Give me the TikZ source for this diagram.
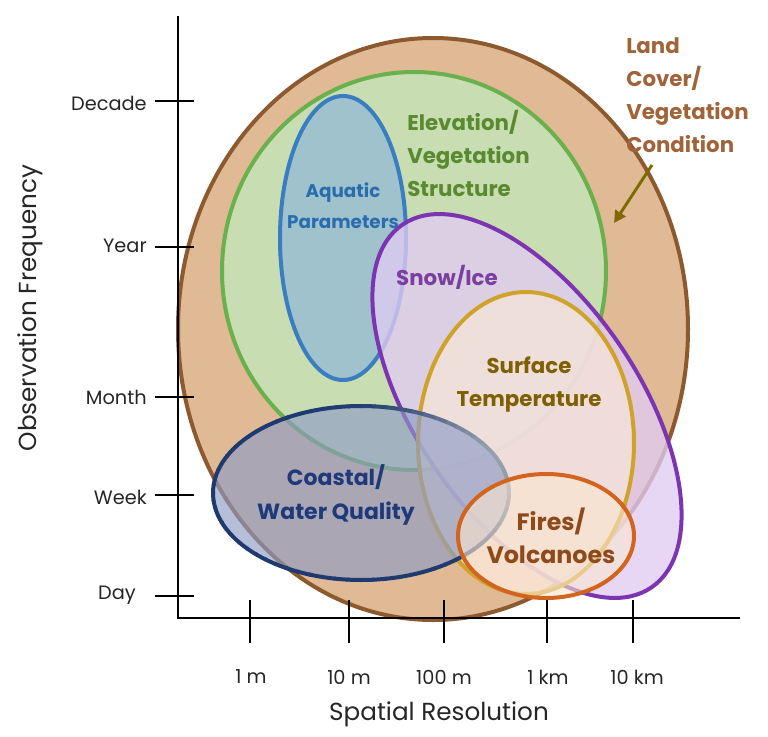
\documentclass[tikz,border=0pt]{standalone}
\usepackage{fontspec}
\setmainfont{Poppins}
\usetikzlibrary{arrows.meta}
\definecolor{tanfill}{HTML}{E0B995}
\definecolor{tanline}{HTML}{8C5A2E}
\definecolor{landtxt}{HTML}{A0643A}
\definecolor{greenfill}{HTML}{C8DDB2}
\definecolor{greenline}{HTML}{6AB04C}
\definecolor{greentxt}{HTML}{5A8A30}
\definecolor{aquafill}{HTML}{A0C2CC}
\definecolor{aqualine}{HTML}{3A7DC0}
\definecolor{aquatxt}{HTML}{2A6DAF}
\definecolor{snowfill}{HTML}{E0CCF2}
\definecolor{snowline}{HTML}{7B35B0}
\definecolor{snowtxt}{HTML}{7B3FA0}
\definecolor{surffill}{HTML}{F8E6D8}
\definecolor{surfline}{HTML}{CFA32A}
\definecolor{surftxt}{HTML}{7F6000}
\definecolor{firefill}{HTML}{FBE6D0}
\definecolor{fireline}{HTML}{D3641E}
\definecolor{firetxt}{HTML}{8E4A1A}
\definecolor{coastfill}{HTML}{8E9CC6}
\definecolor{coastline}{HTML}{1F3A6E}
\definecolor{coastgray}{HTML}{94A2AE}
\definecolor{coasttxt}{HTML}{1F3A7A}
\definecolor{arrowc}{HTML}{7F6A00}
\tikzset{
  region/.style={line width=3pt},
  lbl/.style={font=\bfseries\fontsize{16}{24.75}\selectfont, inner sep=0pt, align=left},
  clbl/.style={font=\bfseries\fontsize{16}{24.75}\selectfont, inner sep=0pt, align=center},
  axisline/.style={line width=2.2pt, black},
  tickline/.style={line width=2.2pt, black},
  ticklbl/.style={font=\fontsize{14.5}{16}\selectfont, inner sep=0pt, text=black!85},
  axislbl/.style={font=\fontsize{18.5}{21}\selectfont, inner sep=0pt, text=black!85}
}
\begin{document}
\begin{tikzpicture}[x=0.75pt,y=-0.75pt]
\useasboundingbox (0,0) rectangle (768,736);
% regions
\filldraw[region, fill=tanfill, draw=tanline] (433,329) ellipse (255 and 291);
\filldraw[region, fill=greenfill, draw=greenline] (414,271) ellipse (192 and 199);
\filldraw[region, fill=aquafill, draw=aqualine] (343,238) ellipse (63 and 142);
\filldraw[region, fill=snowfill, fill opacity=0.78, draw=snowline] (527,406) ellipse [x radius=220, y radius=111, rotate=-55.5];
\filldraw[region, fill=surffill, fill opacity=0.7, draw=surfline] (526,443) ellipse (108 and 151);
% coastal: fill, then stroke fading from navy to grey at upper right
\fill[coastfill, fill opacity=0.65] (361,493) ellipse (148 and 87);
\foreach \a in {0,5,...,355}{
  \pgfmathsetmacro{\pp}{int(100*(1-pow(max(0,cos(\a-335)),3)))}
  \draw[line width=3pt, draw=coastline!\pp!coastgray] (361,493) ++(\a:148 and 87) arc[start angle=\a, end angle=\a+5.6, x radius=148, y radius=87];
}
\filldraw[region, fill=firefill, fill opacity=0.6, draw=fireline] (546,536) ellipse (88 and 62);
% axes
\coordinate (ytop) at (178,16);
\coordinate (origin) at (178,618);
\coordinate (xend) at (740,618);
\draw[axisline] (ytop) -- (origin) -- (xend);
% y ticks
\foreach \nm/\yy in {decade/101, year/247, month/397, week/495, day/596}{
  \coordinate (yt-\nm-a) at (155,\yy);
  \coordinate (yt-\nm-b) at (194,\yy);
  \draw[tickline] (yt-\nm-a) -- (yt-\nm-b);
}
\node[ticklbl, anchor=east] (ldecade) at (147,103) {Decade};
\node[ticklbl, anchor=east] (lyear) at (147,246) {Year};
\node[ticklbl, anchor=east] (lmonth) at (147,397) {Month};
\node[ticklbl, anchor=east] (lweek) at (147,497) {Week};
\node[ticklbl, anchor=east] (lday) at (136,595) {Day};
% x ticks
\foreach \nm/\xx in {a/250, b/349, c/444, d/547, e/633}{
  \coordinate (xt-\nm-a) at (\xx,600);
  \coordinate (xt-\nm-b) at (\xx,643);
  \draw[tickline] (xt-\nm-a) -- (xt-\nm-b);
}
\node[ticklbl] (l1m) at (251,677) {1 m};
\node[ticklbl] (l10m) at (349,677) {10 m};
\node[ticklbl] (l100m) at (444,677) {100 m};
\node[ticklbl] (l1km) at (548,677) {1 km};
\node[ticklbl] (l10km) at (637,677) {10 km};
% axis labels
\node[axislbl] (xlab) at (439,714) {Spatial Resolution};
\node[axislbl, rotate=90] (ylab) at (30,308) {Observation Frequency};
% region labels
\node[lbl, text=landtxt, anchor=north west] (land) at (626,37) {Land\\Cover/\\Vegetation\\Condition};
\node[lbl, text=greentxt, anchor=north west] (elev) at (407,110) {Elevation/\\Vegetation\\Structure};
\node[clbl, text=aquatxt, font=\bfseries\fontsize{13.75}{23.25}\selectfont] (aqua) at (343,206) {Aquatic\\Parameters};
\node[clbl, text=snowtxt] (snow) at (447,277) {Snow/Ice};
\node[clbl, text=surftxt] (surf) at (529,384) {Surface\\Temperature};
\node[clbl, text=coasttxt, font=\bfseries\fontsize{16.5}{25.5}\selectfont] (coast) at (336,495) {Coastal/\\Water Quality};
\node[clbl, text=firetxt, font=\bfseries\fontsize{17.8}{24.75}\selectfont] (fire) at (551,536) {Fires/\\Volcanoes};
% arrow
\coordinate (arrS) at (652,165);
\coordinate (arrE) at (614,223);
\draw[arrowc, line width=2.2pt, -{Triangle[length=9pt,width=9pt]}] (arrS) -- (arrE);
\end{tikzpicture}
\end{document}
